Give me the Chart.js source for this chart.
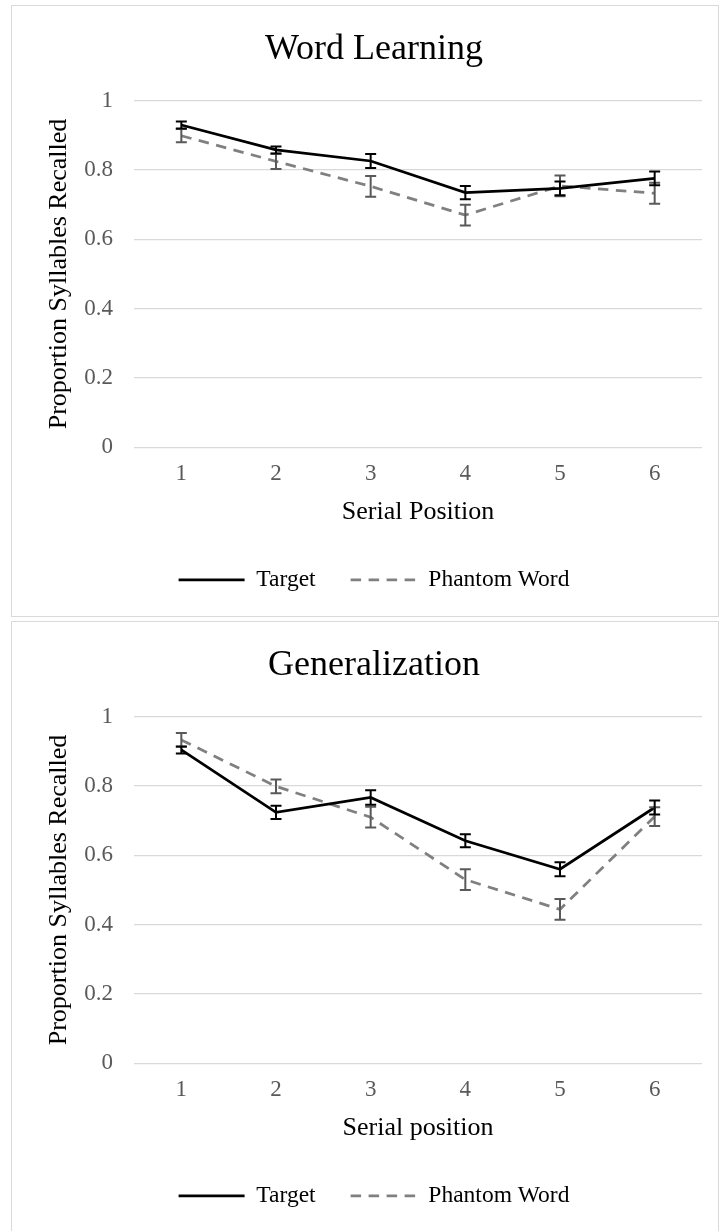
<!DOCTYPE html>
<html>
<head>
<meta charset="utf-8">
<script src="https://cdn.jsdelivr.net/npm/chart.js@4.4.0/dist/chart.umd.min.js"></script>
<style>
  html, body { margin: 0; padding: 0; background: #fff; }
  body { width: 720px; height: 1231px; position: relative; overflow: hidden; }
  .box { position: absolute; left: 11px; width: 706px; height: 610px; border: 1px solid #d9d9d9; }
  #box-learn { top: 5px; }
  #box-gen { top: 621px; }
  canvas { display: block; }
</style>
</head>
<body>
<div class="box" id="box-learn"><canvas id="chart-learn" width="706" height="610"></canvas></div>
<div class="box" id="box-gen"><canvas id="chart-gen" width="706" height="610"></canvas></div>
<script>
  // ---------- data ----------
  const serialPositions = ['1', '2', '3', '4', '5', '6'];
  const yTickLabels = ['0', '0.2', '0.4', '0.6', '0.8', '1'];

  // Word Learning
  const learnTarget = [0.930, 0.858, 0.826, 0.735, 0.747, 0.776];
  const learnTargetErr = [0.010, 0.010, 0.020, 0.019, 0.020, 0.020];
  const learnPhantom = [0.899, 0.825, 0.753, 0.670, 0.754, 0.733];
  const learnPhantomErr = [0.019, 0.022, 0.030, 0.030, 0.030, 0.030];

  // Generalization
  const genTarget = [0.904, 0.724, 0.767, 0.642, 0.560, 0.738];
  const genTargetErr = [0.010, 0.019, 0.021, 0.019, 0.020, 0.020];
  const genPhantom = [0.933, 0.799, 0.710, 0.530, 0.444, 0.712];
  const genPhantomErr = [0.020, 0.020, 0.030, 0.030, 0.030, 0.027];

  Chart.defaults.font.family = "'Liberation Serif', 'Times New Roman', serif";

  // error bars drawn through the y scale, phantom first so target sits on top
  const errorBars = {
    id: 'errorBars',
    afterDatasetsDraw(chart) {
      const ctx = chart.ctx;
      const y = chart.scales.y;
      for (let i = chart.data.datasets.length - 1; i >= 0; i--) {
        const ds = chart.data.datasets[i];
        const meta = chart.getDatasetMeta(i);
        ctx.save();
        ctx.strokeStyle = ds.errorColor;
        ctx.lineWidth = 2;
        ctx.setLineDash([]);
        meta.data.forEach((pt, j) => {
          const top = y.getPixelForValue(ds.data[j] + ds.errors[j]);
          const bot = y.getPixelForValue(ds.data[j] - ds.errors[j]);
          ctx.beginPath();
          ctx.moveTo(pt.x, top); ctx.lineTo(pt.x, bot);
          ctx.moveTo(pt.x - 5.5, top); ctx.lineTo(pt.x + 5.5, top);
          ctx.moveTo(pt.x - 5.5, bot); ctx.lineTo(pt.x + 5.5, bot);
          ctx.stroke();
        });
        ctx.restore();
      }
    }
  };

  // legend samples: plain line with the dataset's own dash
  let legendLabels = (chart) => {
    return Chart.defaults.plugins.legend.labels.generateLabels(chart).map((item, i) => {
      const ds = chart.data.datasets[i];
      item.pointStyle = 'line';
      item.strokeStyle = ds.borderColor;
      item.lineWidth = ds.borderWidth;
      item.lineDash = ds.borderDash || [];
      item.lineDashOffset = 0;
      return item;
    });
  }

  let makeChart = (id, title, xTitle, target, targetErr, phantom, phantomErr) => {
    return new Chart(document.getElementById(id).getContext('2d'), {
      type: 'line',
      data: {
        labels: serialPositions,
        datasets: [{
          label: 'Target',
          data: target,
          errors: targetErr,
          errorColor: '#000000',
          borderColor: '#000000',
          backgroundColor: '#000000',
          borderWidth: 2.75,
          pointRadius: 0,
          pointHoverRadius: 0,
          tension: 0,
          fill: false
        }, {
          label: 'Phantom Word',
          data: phantom,
          errors: phantomErr,
          errorColor: '#595959',
          borderColor: '#808080',
          backgroundColor: '#808080',
          borderWidth: 2.75,
          borderDash: [10.5, 7.5],
          pointRadius: 0,
          pointHoverRadius: 0,
          tension: 0,
          fill: false
        }]
      },
      options: {
        responsive: false,
        animation: false,
        events: [],
        layout: { padding: { left: 34, right: 16, top: 0, bottom: 14.3 } },
        plugins: {
          title: {
            display: true, text: title, color: '#000000',
            font: { size: 36, weight: 'normal', lineHeight: 1.2 },
            padding: { top: 22, bottom: 29.5 }
          },
          legend: {
            position: 'bottom',
            labels: {
              usePointStyle: true, pointStyleWidth: 66, boxHeight: 10,
              padding: 35, color: '#000000', font: { size: 23.5 },
              generateLabels: legendLabels
            }
          },
          tooltip: { enabled: false }
        },
        scales: {
          x: {
            offset: true,
            grid: { display: false, drawTicks: false, offset: true },
            border: { display: false },
            ticks: { color: '#595959', font: { size: 23 }, padding: 13 },
            title: {
              display: true, text: xTitle, color: '#000000',
              font: { size: 26 }, padding: { top: 0, bottom: 5.6 }
            },
            afterFit: s => { s.height = 85.9; }
          },
          y: {
            min: 0, max: 1,
            grid: { color: '#d9d9d9', lineWidth: 1.3, drawTicks: false },
            border: { display: false },
            ticks: {
              stepSize: 0.2, color: '#595959', font: { size: 23 }, padding: 21,
              callback: (v, i) => yTickLabels[i]
            },
            title: {
              display: true, text: 'Proportion Syllables Recalled', color: '#000000',
              font: { size: 26, lineHeight: 1 }, padding: { top: 0.5, bottom: 0 }
            },
            afterFit: s => { s.width = 88; }
          }
        }
      },
      plugins: [errorBars]
    });
  }

  makeChart('chart-learn', 'Word Learning', 'Serial Position',
    learnTarget, learnTargetErr, learnPhantom, learnPhantomErr);
  makeChart('chart-gen', 'Generalization', 'Serial position',
    genTarget, genTargetErr, genPhantom, genPhantomErr);
</script>
</body>
</html>
